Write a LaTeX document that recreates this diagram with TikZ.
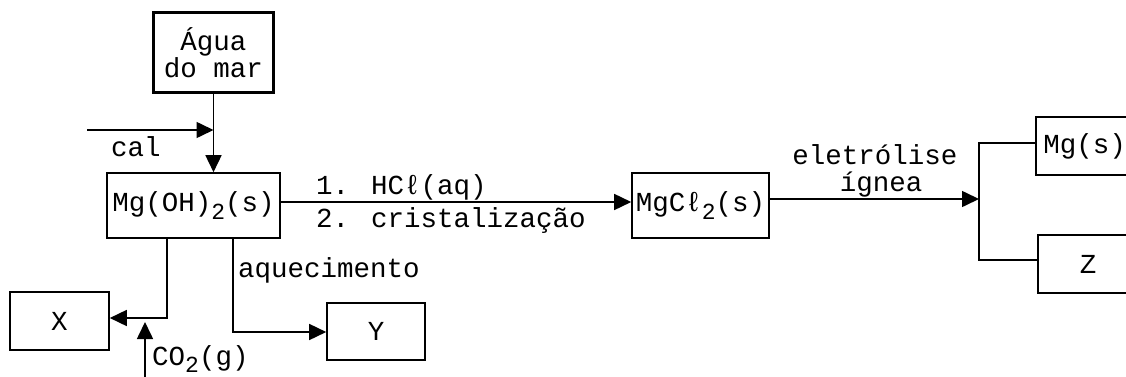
\documentclass[tikz,border=0pt]{standalone}
\usepackage{fontspec}
\setmainfont{Liberation Mono}
\usetikzlibrary{arrows.meta,calc}
\newcommand\sbs[1]{\raisebox{-0.5ex}{\fontsize{23}{23}\selectfont #1}}
\tikzset{
  every node/.style={font=\fontsize{27.5}{23}\selectfont, inner sep=0pt},
  box/.style={draw, line width=1.6pt, rectangle, anchor=center},
  thickbox/.style={draw, line width=3.2pt, rectangle, anchor=center, align=center},
  conn/.style={line width=1.6pt},
  arr/.style={conn, -{Triangle[length=17pt,width=16pt]}},
  lbl/.style={anchor=west},
}
\begin{document}
\begin{tikzpicture}[x=1pt,y=-1pt]
\useasboundingbox (0,0) rectangle (1126,377);
\clip (0,0) rectangle (1126,377);
% boxes
\node[thickbox, minimum width=120pt, minimum height=80pt] (agua) at (213.5,52.5) {Água\\do mar};
\node[box, minimum width=173pt, minimum height=65pt] (mgoh) at (193.5,205.5) {Mg(OH)\sbs{2}(s)};
\node[box, minimum width=99pt, minimum height=58pt] (xbox) at (59.5,321) {X};
\node[box, minimum width=98pt, minimum height=57pt] (ybox) at (376,331.5) {Y};
\node[box, minimum width=137pt, minimum height=65pt] (mgcl) at (700.5,205.5) {MgCℓ\sbs{2}(s)};
\node[box, minimum width=104pt, minimum height=58pt] (mgs) at (1088,146) {\hspace*{-7pt}Mg(s)};
\node[box, minimum width=100pt, minimum height=58pt] (zbox) at (1088,264) {Z};
% helper coordinates
\coordinate (calstart) at (87,130);
\coordinate (xturn) at (167,318);
\coordinate (co2start) at (145,380);
\coordinate (co2end) at (145,322);
\coordinate (yturn) at (233,332);
\coordinate (hcly) at (0,202);
\coordinate (ely) at (0,199);
\coordinate (fork) at (979,199);
\coordinate (forktop) at (979,143);
\coordinate (forkbot) at (979,260);
% connectors
\draw[arr] (agua.south) -- (agua.south |- mgoh.north);
\draw[arr] (calstart) -- (calstart -| agua.south);
\draw[arr] (xturn |- mgoh.south) -- (xturn) -- (xturn -| xbox.east);
\draw[arr] (co2start) -- (co2end);
\draw[arr] (yturn |- mgoh.south) -- (yturn) -- (yturn -| ybox.west);
\draw[arr] (mgoh.east |- hcly) -- (mgcl.west |- hcly);
\draw[arr] (mgcl.east |- ely) -- (fork);
\draw[conn] (forktop -| mgs.west) -- (forktop) -- (forkbot) -- (forkbot -| zbox.west);
% labels
\node (cal) at (136,147) {cal};
\node[lbl] (co2) at (152,359) {CO\sbs{2}(g)};
\node[lbl] (aquec) at (238,270) {aquecimento};
\node[lbl] (hcl) at (316,187) {1. HCℓ(aq)};
\node[lbl] (crist) at (316,221) {2. cristalização};
\node (eletr) at (875,155) {eletrólise};
\node (ignea) at (881,185) {ígnea};
\end{tikzpicture}
\end{document}
